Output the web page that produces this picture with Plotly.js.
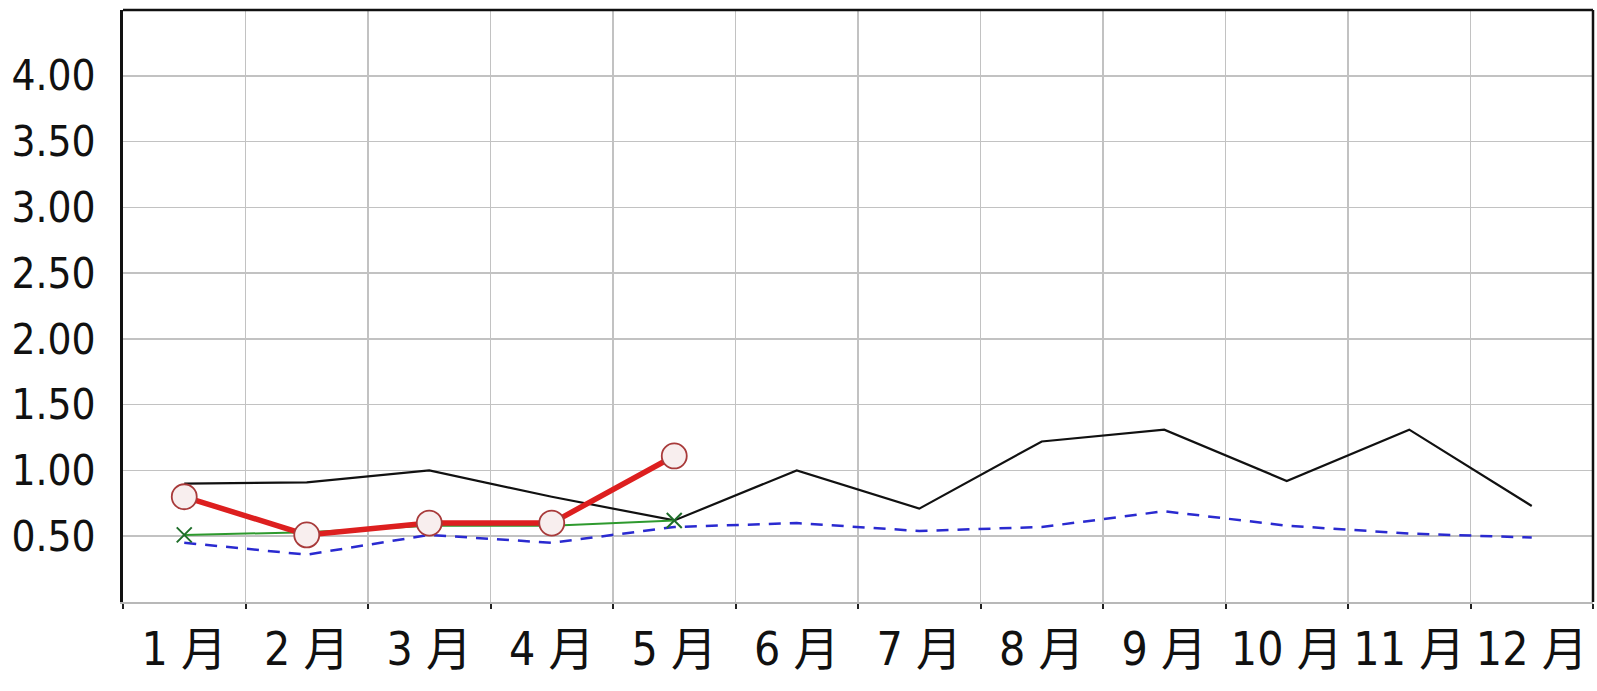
<!DOCTYPE html>
<html>
<head>
<meta charset="utf-8">
<script src="https://cdn.plot.ly/plotly-3.0.1.min.js"></script>
<style>
  html, body { margin: 0; padding: 0; background: #ffffff; }
  #chart { width: 1597px; height: 691px; }
</style>
</head>
<body>
<div id="chart"></div>
<script>
// ---- data ----
const months = ['1 月', '2 月', '3 月', '4 月', '5 月', '6 月', '7 月', '8 月', '9 月', '10 月', '11 月', '12 月'];
const blackSeries = [0.90, 0.91, 1.00, 0.80, 0.62, 1.00, 0.71, 1.22, 1.31, 0.92, 1.31, 0.73];
const blueSeries  = [0.45, 0.36, 0.51, 0.45, 0.57, 0.60, 0.54, 0.57, 0.69, 0.58, 0.52, 0.49];
const greenSeries = [0.51, 0.53, 0.58, 0.58, 0.62];
const redSeries   = [0.80, 0.51, 0.60, 0.60, 1.11];
const yTickVals   = [0.5, 1.0, 1.5, 2.0, 2.5, 3.0, 3.5, 4.0];
const yTickText   = ['0.50', '1.00', '1.50', '2.00', '2.50', '3.00', '3.50', '4.00'];

const fontFamily = '"DejaVu Sans Condensed", "Noto Sans CJK JP", sans-serif';

const traces = [
  {
    x: months, y: blueSeries, type: 'scatter', mode: 'lines',
    line: { color: '#2a2ad0', width: 2.5, dash: '12px,9px' },
    hoverinfo: 'skip'
  },
  {
    x: months, y: blackSeries, type: 'scatter', mode: 'lines',
    line: { color: '#111111', width: 2.2 },
    hoverinfo: 'skip'
  },
  {
    x: months.slice(0, greenSeries.length), y: greenSeries, type: 'scatter', mode: 'lines+markers',
    line: { color: '#2e9a2e', width: 2 },
    marker: { symbol: 'x-thin', size: 15, line: { color: '#1f6e2a', width: 2 } },
    hoverinfo: 'skip'
  },
  {
    x: months.slice(0, redSeries.length), y: redSeries, type: 'scatter', mode: 'lines+markers',
    line: { color: '#dd1f1f', width: 5.5 },
    marker: { symbol: 'circle', size: 25, color: '#f8eeee', line: { color: '#a83a3a', width: 1.8 } },
    hoverinfo: 'skip'
  }
];

const layout = {
  width: 1597,
  height: 691,
  margin: { l: 123, r: 4, t: 10, b: 89 },
  paper_bgcolor: '#ffffff',
  plot_bgcolor: '#ffffff',
  showlegend: false,
  xaxis: {
    type: 'category',
    tickson: 'boundaries',
    showgrid: true,
    gridcolor: '#c2c2c2',
    gridwidth: 1.6,
    showline: true,
    linecolor: '#b8b8b8',
    linewidth: 2,
    ticks: 'outside',
    ticklen: 5,
    tickwidth: 2,
    tickcolor: '#222222',
    ticklabelstandoff: 6,
    tickfont: { family: fontFamily, size: 46, color: '#111111' },
    range: [-0.5, 11.5],
    fixedrange: true
  },
  yaxis: {
    range: [0, 4.5],
    tickvals: yTickVals,
    ticktext: yTickText,
    showgrid: true,
    gridcolor: '#c2c2c2',
    gridwidth: 1.6,
    zeroline: false,
    showline: true,
    linecolor: '#111111',
    linewidth: 3,
    ticks: '',
    ticklabelstandoff: 16,
    tickfont: { family: fontFamily, size: 42, color: '#111111' },
    fixedrange: true
  },
  shapes: [
    { type: 'line', xref: 'paper', yref: 'paper', x0: 0, x1: 1, y0: 1, y1: 1,
      line: { color: '#111111', width: 2.5 } },
    { type: 'line', xref: 'paper', yref: 'paper', x0: 1, x1: 1, y0: 0, y1: 1,
      line: { color: '#111111', width: 2.5 } }
  ]
};

Plotly.newPlot('chart', traces, layout, { staticPlot: true, displayModeBar: false });
</script>
</body>
</html>
